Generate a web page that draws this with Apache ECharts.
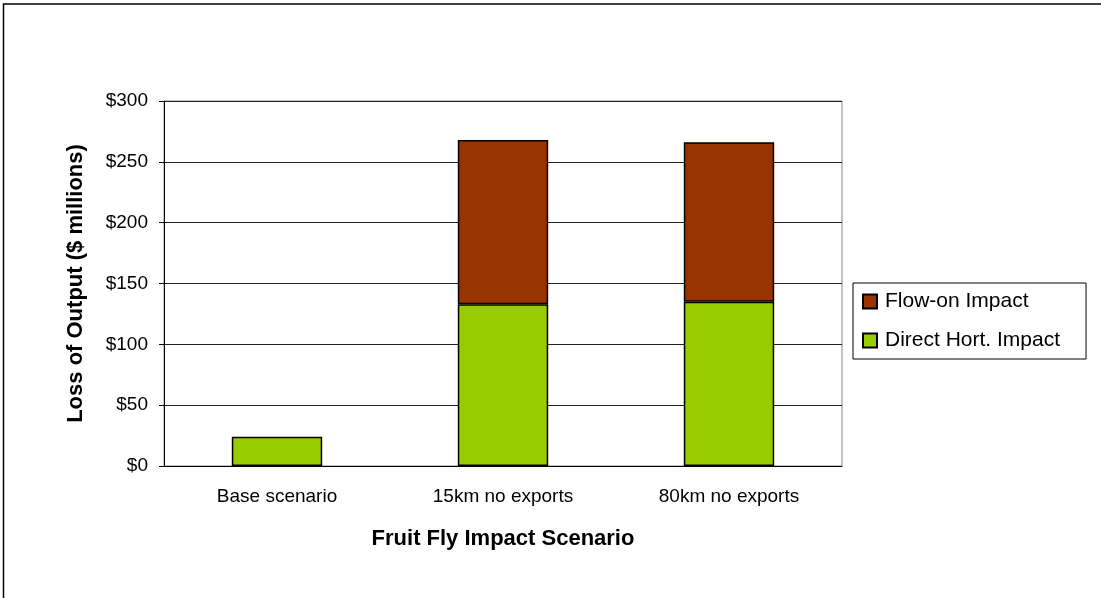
<!DOCTYPE html>
<html lang="en">
<head>
    <meta charset="UTF-8">
    <title>Fruit Fly Impact Scenario</title>
    <script src="https://cdn.jsdelivr.net/npm/echarts@6/dist/echarts.min.js"></script>
    <style>
        html, body { margin: 0; padding: 0; background: #fff; }
        #chart { width: 1101px; height: 598px; }
    </style>
</head>
<body>
<div id="chart"></div>
<script>
    var scenarios = ['Base scenario', '15km no exports', '80km no exports'];
    var directHort = [24, 133, 135];
    var flowOn = [null, 135, 131];

    var font = 'Liberation Sans, Arial, sans-serif';
    var myChart = echarts.init(document.getElementById('chart'));

    var option = {
        animation: false,
        textStyle: { fontFamily: font, color: '#000' },
        graphic: [{
            type: 'polyline',
            shape: { points: [[3.5, 598], [3.5, 4], [1101, 4]] },
            style: { stroke: '#000', lineWidth: 1.5, fill: null },
            silent: true
        }],
        grid: {
            left: 164, right: 259, top: 101, bottom: 132,
            show: true, borderColor: '#888', borderWidth: 1
        },
        legend: {
            orient: 'vertical',
            left: 853, top: 283,
            padding: [8, 26, 8, 9],
            itemGap: 18,
            icon: 'rect',
            itemWidth: 14, itemHeight: 14,
            borderColor: '#000', borderWidth: 1,
            textStyle: { fontSize: 21, fontFamily: font, color: '#000', padding: [0, 0, 0, 3] },
            data: ['Flow-on Impact', 'Direct Hort. Impact']
        },
        xAxis: {
            type: 'category',
            data: scenarios,
            name: 'Fruit Fly Impact Scenario',
            nameLocation: 'middle',
            nameGap: 62,
            nameTextStyle: { fontSize: 22, fontWeight: 'bold', fontFamily: font, color: '#000' },
            axisLine: { lineStyle: { color: '#000' } },
            axisTick: { length: 6, lineStyle: { color: '#000' } },
            axisLabel: { fontSize: 19, margin: 21, color: '#000' }
        },
        yAxis: {
            type: 'value',
            min: 0, max: 300, interval: 50,
            name: 'Loss of Output ($ millions)',
            nameLocation: 'middle',
            nameGap: 77,
            nameTextStyle: { fontSize: 22, fontWeight: 'bold', fontFamily: font, color: '#000' },
            axisLine: { show: true, lineStyle: { color: '#000' } },
            axisTick: { show: true, length: 5, lineStyle: { color: '#000' } },
            axisLabel: {
                fontSize: 19, margin: 16, color: '#000',
                formatter: function (v) { return '$' + v; }
            },
            splitLine: { lineStyle: { color: '#222', width: 1 } }
        },
        series: [{
            name: 'Direct Hort. Impact',
            type: 'bar',
            stack: 'total',
            barWidth: '40%',
            data: directHort,
            itemStyle: { color: '#99CC00', borderColor: '#000', borderWidth: 1.5 }
        }, {
            name: 'Flow-on Impact',
            type: 'bar',
            stack: 'total',
            barWidth: '40%',
            data: flowOn,
            itemStyle: { color: '#993300', borderColor: '#000', borderWidth: 1.5 }
        }]
    };

    myChart.setOption(option);
</script>
</body>
</html>
